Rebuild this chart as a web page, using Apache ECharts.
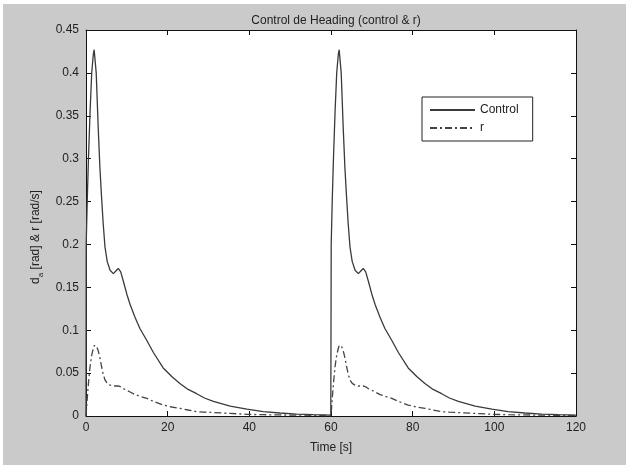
<!DOCTYPE html>
<html>
<head>
<meta charset="utf-8">
<script src="https://cdn.jsdelivr.net/npm/echarts@6/dist/echarts.min.js"></script>
<style>
html,body{margin:0;padding:0;background:#ffffff;}
#bg{position:absolute;left:3px;top:4px;right:0;bottom:0;background:#cacaca;}
#chart{position:absolute;left:0;top:0;width:626px;height:465px;}
</style>
</head>
<body>
<div id="bg"></div>
<div id="chart"></div>
<script>
const titleText = 'Control de Heading (control & r)';
const xName = 'Time [s]';
const seriesNames = ['Control', 'r'];
const xTicks = [0, 20, 40, 60, 80, 100, 120];
const yTicks = [0, 0.05, 0.1, 0.15, 0.2, 0.25, 0.3, 0.35, 0.4, 0.45];

const time = [
  0, 0.05, 0.3, 0.6, 1.0, 1.4, 1.8, 2.0, 2.2, 2.5, 3.0, 3.4, 3.8, 4.2, 4.65, 5.2, 5.9, 6.7, 7.3, 7.9, 8.5, 9.1, 10, 10.8, 12, 13.2, 14.9, 16.5, 18.9, 21, 23, 25, 27.1, 29, 31.2, 35.3, 39.4, 43.4, 47.5, 51.6, 55.7, 59.95,
  60, 60.05, 60.3, 60.6, 61.0, 61.4, 61.8, 62.0, 62.2, 62.5, 63.0, 63.4, 63.8, 64.2, 64.65, 65.2, 65.9, 66.7, 67.3, 67.9, 68.5, 69.1, 70, 70.8, 72, 73.2, 74.9, 76.5, 78.9, 81, 83, 85, 87.1, 89, 91.2, 95.3, 99.4, 103.4, 107.5, 111.6, 115.7, 120
];
const control = [
  0, 0.2, 0.25, 0.30, 0.355, 0.40, 0.422, 0.427, 0.425, 0.40, 0.335, 0.29, 0.256, 0.225, 0.197, 0.18, 0.170, 0.166, 0.169, 0.172, 0.168, 0.158, 0.142, 0.130, 0.115, 0.102, 0.088, 0.074, 0.056, 0.046, 0.038, 0.031, 0.026, 0.021, 0.017, 0.0115, 0.008, 0.005, 0.0035, 0.0022, 0.0015, 0.001,
  0, 0.2, 0.25, 0.30, 0.355, 0.40, 0.422, 0.427, 0.425, 0.40, 0.335, 0.29, 0.256, 0.225, 0.197, 0.18, 0.170, 0.166, 0.169, 0.172, 0.168, 0.158, 0.142, 0.130, 0.115, 0.102, 0.088, 0.074, 0.056, 0.046, 0.038, 0.031, 0.026, 0.021, 0.017, 0.0115, 0.008, 0.005, 0.0035, 0.0022, 0.0015, 0.001
];
const rate = [
  0, 0.003, 0.02, 0.038, 0.058, 0.071, 0.079, 0.082, 0.083, 0.082, 0.076, 0.068, 0.058, 0.049, 0.042, 0.038, 0.036, 0.035, 0.035, 0.035, 0.034, 0.032, 0.030, 0.028, 0.025, 0.023, 0.0206, 0.017, 0.0128, 0.0105, 0.009, 0.007, 0.005, 0.0045, 0.004, 0.003, 0.002, 0.0015, 0.0012, 0.001, 0.0008, 0.0005,
  0, 0.003, 0.02, 0.038, 0.058, 0.071, 0.079, 0.082, 0.083, 0.082, 0.076, 0.068, 0.058, 0.049, 0.042, 0.038, 0.036, 0.035, 0.035, 0.035, 0.034, 0.032, 0.030, 0.028, 0.025, 0.023, 0.0206, 0.017, 0.0128, 0.0105, 0.009, 0.007, 0.005, 0.0045, 0.004, 0.003, 0.002, 0.0015, 0.0012, 0.001, 0.0008, 0.0005
];

const font = '"Liberation Sans", Arial, sans-serif';
const txt = '#222222';

const chart = echarts.init(document.getElementById('chart'), null, {renderer: 'canvas'});

function baseAxis(extra) {
  return Object.assign({
    axisLine: {show: true, onZero: false, lineStyle: {color: '#111', width: 1}},
    axisTick: {show: true, inside: true, length: 5, lineStyle: {color: '#111'}},
    splitLine: {show: false},
    axisLabel: {color: txt, fontFamily: font, fontSize: 12}
  }, extra);
}

const option = {
  backgroundColor: 'transparent',
  animation: false,
  title: {
    text: titleText, left: 331, top: 10, textAlign: 'center',
    textStyle: {color: txt, fontFamily: font, fontSize: 12, fontWeight: 'normal'}
  },
  grid: {left: 86, right: 50, top: 30, bottom: 49, show: true, backgroundColor: '#ffffff', borderWidth: 0},
  legend: {
    orient: 'vertical', left: 422, top: 97,
    padding: [7, 14, 7, 7], itemGap: 6,
    backgroundColor: '#ffffff', borderColor: '#222', borderWidth: 1, borderRadius: 0,
    itemWidth: 45, itemHeight: 12,
    itemStyle: {opacity: 0},
    textStyle: {color: txt, fontFamily: font, fontSize: 12},
    data: seriesNames
  },
  xAxis: [
    baseAxis({
      type: 'value', min: 0, max: 120, interval: 20, position: 'bottom',
      name: xName, nameLocation: 'middle', nameGap: 26,
      nameTextStyle: {color: txt, fontFamily: font, fontSize: 12},
      axisLabel: {color: txt, fontFamily: font, fontSize: 12, margin: 6,
        customValues: xTicks, formatter: v => String(v)}
    }),
    baseAxis({type: 'value', min: 0, max: 120, interval: 20, position: 'top',
      axisLabel: {show: false}})
  ],
  yAxis: [
    baseAxis({
      type: 'value', min: 0, max: 0.45, interval: 0.05, position: 'left',
      name: 'd{sub|a} [rad] & r [rad/s]', nameLocation: 'middle', nameRotate: 90, nameGap: 44,
      nameTextStyle: {
        color: txt, fontFamily: font, fontSize: 12, padding: [0, 28, 0, 0],
        rich: {sub: {fontSize: 8, fontFamily: font, color: txt, verticalAlign: 'bottom', padding: [0, 0, -3, 0]}}
      },
      axisLabel: {color: txt, fontFamily: font, fontSize: 12, margin: 7,
        formatter: v => String(Math.round(v * 100) / 100)}
    }),
    baseAxis({type: 'value', min: 0, max: 0.45, interval: 0.05, position: 'right',
      axisLabel: {show: false}})
  ],
  series: [
    {
      name: seriesNames[0], type: 'line', xAxisIndex: 0, yAxisIndex: 0,
      data: time.map((t, i) => [t, control[i]]),
      showSymbol: false, symbol: 'none',
      lineStyle: {color: '#3a3a3a', width: 1.3, type: 'solid'},
      itemStyle: {color: '#3a3a3a'}
    },
    {
      name: seriesNames[1], type: 'line', xAxisIndex: 0, yAxisIndex: 0,
      data: time.map((t, i) => [t, rate[i]]),
      showSymbol: false, symbol: 'none',
      lineStyle: {color: '#444444', width: 1.3, type: [7, 3, 2, 3]},
      itemStyle: {color: '#444444'}
    }
  ]
};
chart.setOption(option);
</script>
</body>
</html>
